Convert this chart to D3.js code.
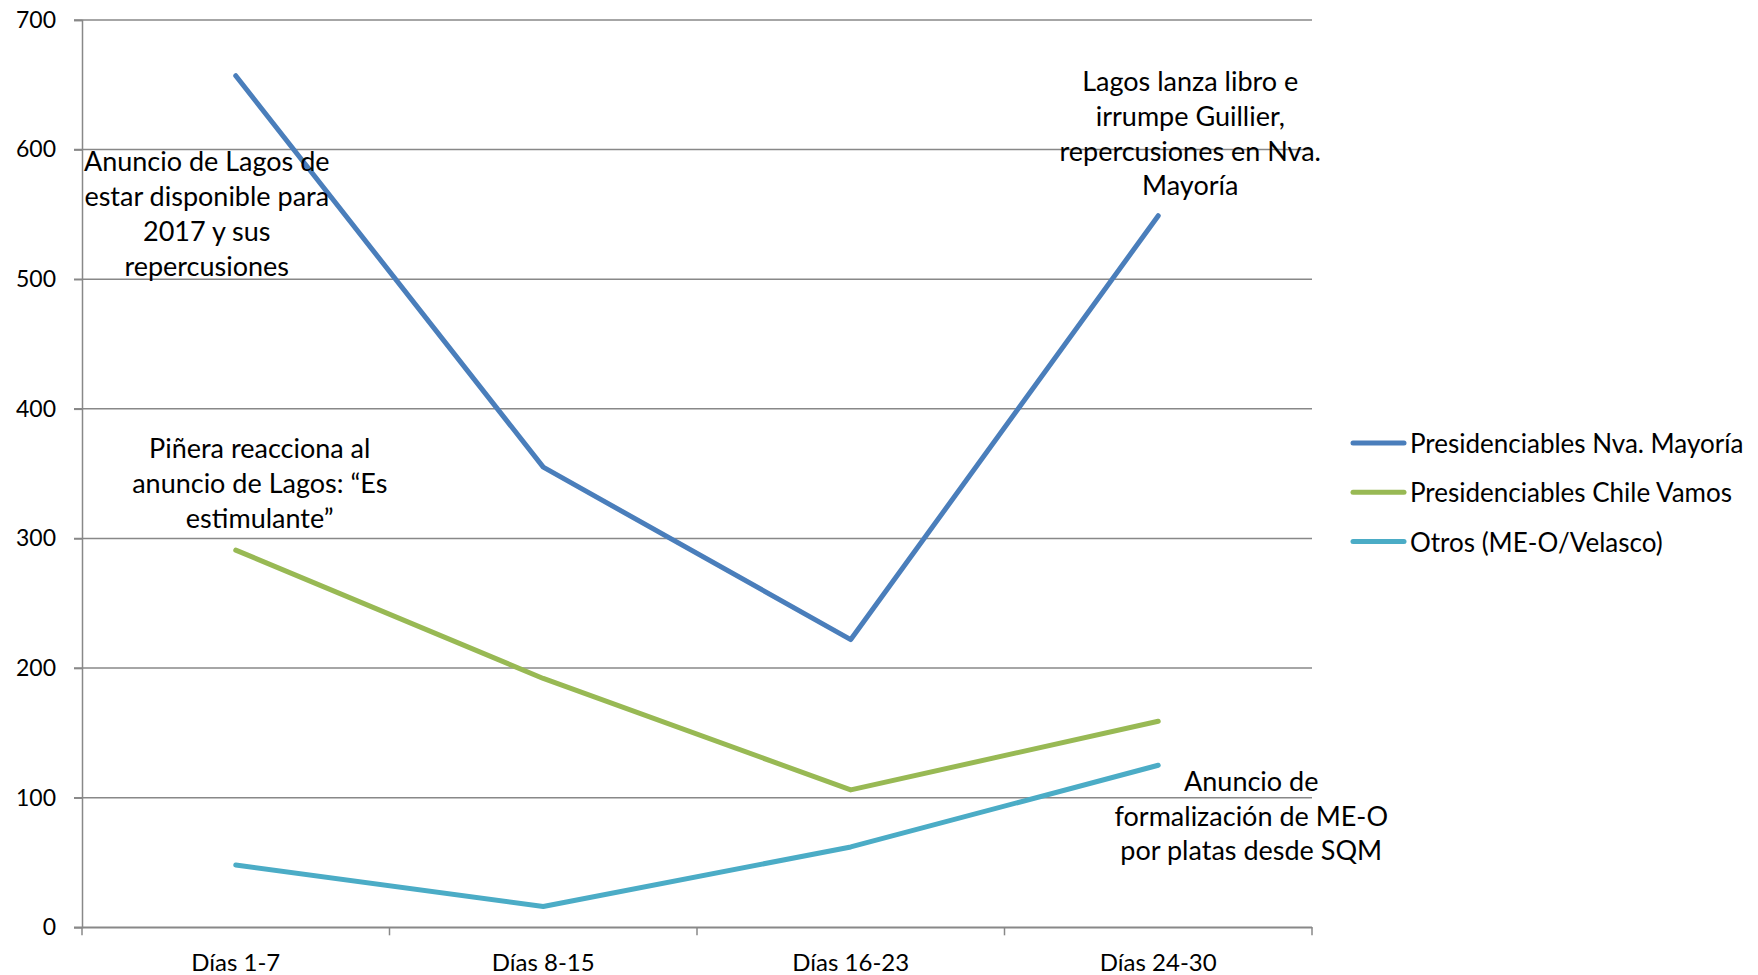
<!DOCTYPE html>
<html><head><meta charset="utf-8">
<script src="https://cdn.jsdelivr.net/npm/d3@7"></script>
<style>body{margin:0;background:#fff}svg{display:block}text{font-family:Lato,"Open Sans",sans-serif;fill:#000}</style>
</head><body>
<script>
const categories = ["Días 1-7", "Días 8-15", "Días 16-23", "Días 24-30"];
const seriesNames = ["Presidenciables Nva. Mayoría", "Presidenciables Chile Vamos", "Otros (ME-O/Velasco)"];
const nvaMayoria = [657, 355, 222, 549];
const chileVamos = [291, 192, 106, 159];
const otros = [48, 16, 62, 125];
const yTicks = [0, 100, 200, 300, 400, 500, 600, 700];
const colors = ["#4a7ebb", "#98b954", "#4bacc6"];
const annotations = [
  {cat: 0, val: 551, dx: -29, lines: ["Anuncio de Lagos de", "estar disponible para", "2017  y sus", "repercusiones"]},
  {cat: 0, val: 343, dx: 24, lines: ["Piñera reacciona al", "anuncio de Lagos: “Es", "estimulante”"]},
  {cat: 3, val: 613, dx: 32, lines: ["Lagos lanza libro e", "irrumpe Guillier,", "repercusiones en Nva.", "Mayoría"]},
  {cat: 3, val: 86.5, dx: 93, lines: ["Anuncio de", "formalización de ME-O", "por platas desde SQM"]}
];

(function () {
const W = 1758, H = 975;
const svg = d3.select("body").append("svg").attr("width", W).attr("height", H);
const mLeft = 82, mRight = 1312, mTop = 20, mBottom = 927.3;
const x = d3.scaleBand().domain(categories).range([mLeft, mRight]).padding(0);
const y = d3.scaleLinear().domain([0, 700]).range([mBottom, mTop]);
const gridColor = "#888888";

svg.append("g").selectAll("line").data(yTicks).join("line")
  .attr("x1", mLeft - 8).attr("x2", mRight).attr("y1", d => y(d)).attr("y2", d => y(d))
  .attr("stroke", gridColor).attr("stroke-width", 1.5);

const yAxis = svg.append("g").attr("transform", `translate(${mLeft},0)`)
  .call(d3.axisLeft(y).tickValues(yTicks).tickSize(8).tickPadding(18));
yAxis.select(".domain").attr("stroke", gridColor).attr("stroke-width", 1.5);
yAxis.selectAll(".tick line").attr("stroke", gridColor).attr("stroke-width", 1.5);
yAxis.selectAll("text").style("font-size", "23px").attr("font-family", "Lato, sans-serif");

const xAxis = svg.append("g").attr("transform", `translate(0,${mBottom})`)
  .call(d3.axisBottom(x).tickSize(0).tickPadding(27));
xAxis.select(".domain").attr("stroke", gridColor).attr("stroke-width", 1.5);
xAxis.selectAll("text").style("font-size", "24px").attr("font-family", "Lato, sans-serif");
const bounds = categories.map(c => x(c)).concat([mRight]);
svg.append("g").selectAll("line").data(bounds).join("line")
  .attr("x1", d => d).attr("x2", d => d).attr("y1", mBottom).attr("y2", mBottom + 8)
  .attr("stroke", gridColor).attr("stroke-width", 1.5);

const allSeries = [nvaMayoria, chileVamos, otros];
const line = d3.line().x((d, i) => x(categories[i]) + x.bandwidth() / 2).y(d => y(d));
svg.append("g").selectAll("path").data(allSeries).join("path")
  .attr("d", d => line(d)).attr("fill", "none")
  .attr("stroke", (d, i) => colors[i]).attr("stroke-width", 5)
  .attr("stroke-linejoin", "round").attr("stroke-linecap", "round");

const lh = 34.8;
annotations.forEach(a => {
  const cx = x(categories[a.cat]) + x.bandwidth() / 2 + a.dx;
  const cy = y(a.val);
  const n = a.lines.length;
  const t = svg.append("text").attr("text-anchor", "middle").style("font-size", "27px");
  a.lines.forEach((l, i) => {
    t.append("tspan").attr("x", cx).attr("y", cy + (i - (n - 1) / 2) * lh).attr("dominant-baseline", "central").text(l);
  });
});

const lg = svg.append("g");
seriesNames.forEach((s, i) => {
  const ly = 443 + i * 49.3;
  lg.append("line").attr("x1", 1353).attr("x2", 1404).attr("y1", ly).attr("y2", ly)
    .attr("stroke", colors[i]).attr("stroke-width", 5).attr("stroke-linecap", "round");
  lg.append("text").attr("x", 1410).attr("y", ly).attr("dominant-baseline", "central")
    .style("font-size", "26px").text(s);
});
})();
</script>
</body></html>
